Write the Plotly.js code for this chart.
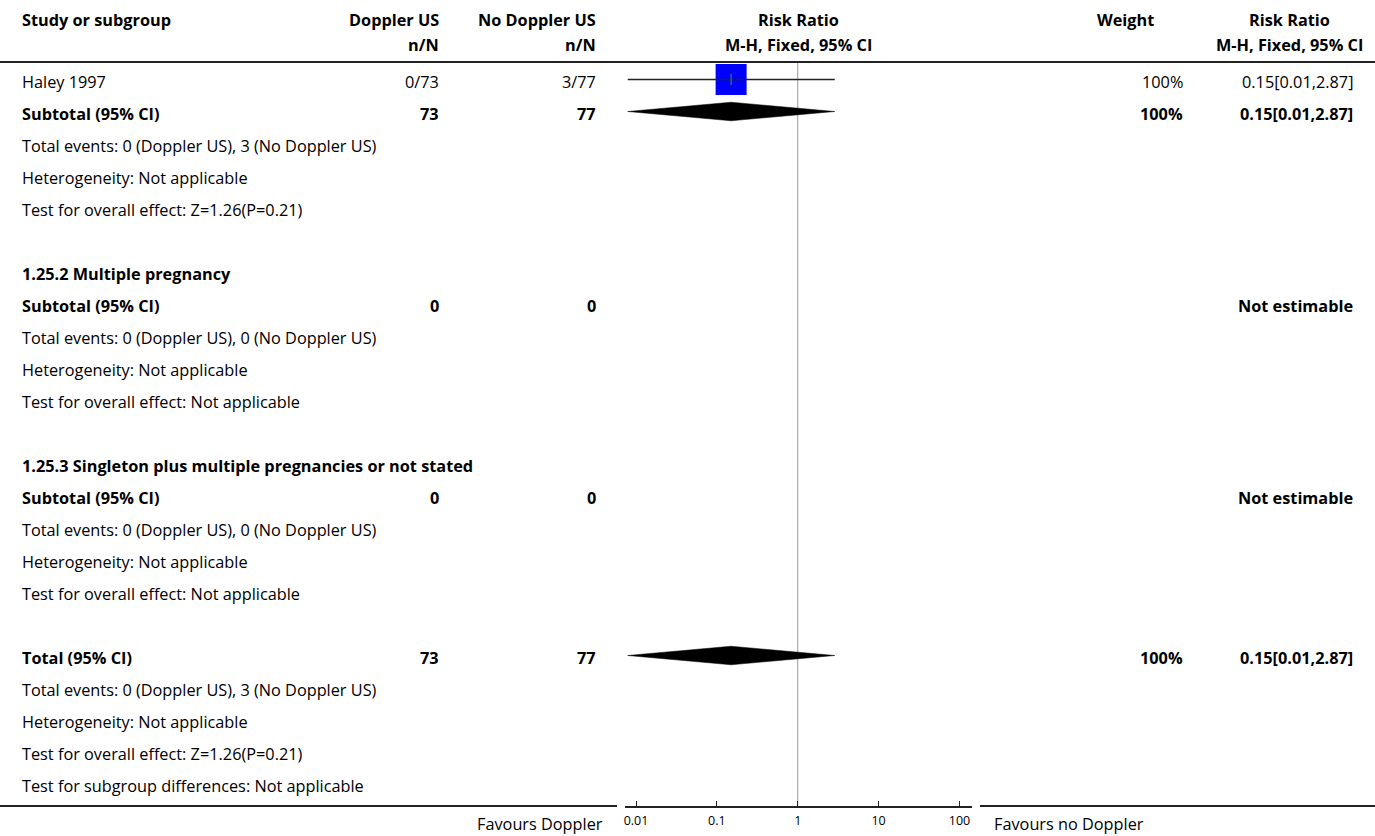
<!DOCTYPE html>
<html>
<head>
<meta charset="utf-8">
<script src="https://cdn.plot.ly/plotly-3.0.1.min.js"></script>
<style>html,body{margin:0;padding:0;background:#fff}#chart{width:1375px;height:836px}</style>
</head>
<body>
<div id="chart"></div>
<script>
// ---- data ----
const rowLabels = [
  "Haley 1997",
  "Subtotal (95% CI)",
  "Total events: 0 (Doppler US), 3 (No Doppler US)",
  "Heterogeneity: Not applicable",
  "Test for overall effect: Z=1.26(P=0.21)",
  "",
  "1.25.2 Multiple pregnancy",
  "Subtotal (95% CI)",
  "Total events: 0 (Doppler US), 0 (No Doppler US)",
  "Heterogeneity: Not applicable",
  "Test for overall effect: Not applicable",
  "",
  "1.25.3 Singleton plus multiple pregnancies or not stated",
  "Subtotal (95% CI)",
  "Total events: 0 (Doppler US), 0 (No Doppler US)",
  "Heterogeneity: Not applicable",
  "Test for overall effect: Not applicable",
  "",
  "Total (95% CI)",
  "Total events: 0 (Doppler US), 3 (No Doppler US)",
  "Heterogeneity: Not applicable",
  "Test for overall effect: Z=1.26(P=0.21)",
  "Test for subgroup differences: Not applicable"
];
const rowBold = [0,1,0,0,0,0,1,1,0,0,0,0,1,1,0,0,0,0,1,0,0,0,0];
const dopplerCol = ["0/73","73","","","","","","0","","","","","","0","","","","","73","","","",""];
const noDopplerCol = ["3/77","77","","","","","","0","","","","","","0","","","","","77","","","",""];
const weightCol = ["100%","100%","","","","","","","","","","","","","","","","","100%","","","",""];
const rrCol = ["0.15[0.01,2.87]","0.15[0.01,2.87]","","","","","","Not estimable","","","","","","Not estimable","","","","","0.15[0.01,2.87]","","","",""];

const headers1 = ["Study or subgroup","Doppler US","No Doppler US","Risk Ratio","Weight","Risk Ratio"];
const headers2 = ["","n/N","n/N","M-H, Fixed, 95% CI","","M-H, Fixed, 95% CI"];

// study-level estimates (row index, RR, lower, upper)
const studyRows = [0];
const studyRR = [0.15];
const studyLow = [0.0079];
const studyHigh = [2.87];
// pooled diamonds
const pooledRows = [1, 18];
const pooledRR = [0.15, 0.15];
const pooledLow = [0.0079, 0.0079];
const pooledHigh = [2.87, 2.87];

const tickVals = [0.01, 0.1, 1, 10, 100];
const tickText = ["0.01", "0.1", "1", "10", "100"];
const favourLeft = "Favours Doppler";
const favourRight = "Favours no Doppler";

// ---- layout helpers ----
const W = 1375, H = 836;
const px = x => x / W;
const py = y => 1 - y / H;
const ROW0 = 79.5, STEP = 32, TOP = 62, BOT = 806;
const FONT = "'Open Sans', 'Noto Sans', sans-serif";
const FS = 16.3;

const traces = [];
// squares
traces.push({
  x: studyRR, y: studyRows, mode: "markers", type: "scatter",
  marker: {symbol: "square", size: 31, color: "#0000ff", line: {width: 0}},
  hoverinfo: "skip"
});
// CI lines
studyRows.forEach((r, i) => {
  traces.push({
    x: [studyLow[i], studyHigh[i]], y: [r, r], mode: "lines", type: "scatter",
    line: {color: "#222", width: 1.5}, hoverinfo: "skip"
  });
});
traces.push({
  x: studyRR, y: studyRows, mode: "markers", type: "scatter",
  marker: {symbol: "line-ns-open", size: 8, line: {color: "#222", width: 1}},
  hoverinfo: "skip"
});
// diamonds
const dh = 0.29;
pooledRows.forEach((r, i) => {
  traces.push({
    x: [pooledLow[i], pooledRR[i], pooledHigh[i], pooledRR[i], pooledLow[i]],
    y: [r, r - dh, r, r + dh, r],
    mode: "lines", type: "scatter", fill: "toself", fillcolor: "#000",
    line: {color: "#000", width: 0.5}, hoverinfo: "skip"
  });
});

const ann = [];
function txt(x, y, text, anchor, bold, size, yref) {
  ann.push({
    x: px(x), xref: "paper", y: y, yref: yref || "y",
    text: bold ? "<b>" + text + "</b>" : text,
    showarrow: false, xanchor: anchor, yanchor: "middle", yshift: -2,
    font: {family: FONT, size: size || FS, color: "#000"}
  });
}
// headers
const h1x = [20, 441, 598, 798, 1125, 1289];
const h1a = ["left", "right", "right", "center", "center", "center"];
headers1.forEach((t, i) => { if (t) txt(h1x[i], py(18), t, h1a[i], true, FS, "paper"); });
headers2.forEach((t, i) => { if (t) txt(h1x[i], py(43), t, h1a[i], true, FS, "paper"); });

rowLabels.forEach((t, i) => {
  const b = rowBold[i] === 1;
  if (t) txt(20, i, t, "left", b);
  if (dopplerCol[i]) txt(441, i, dopplerCol[i], "right", b);
  if (noDopplerCol[i]) txt(598, i, noDopplerCol[i], "right", b);
  if (weightCol[i]) txt(1185, i, weightCol[i], "right", b);
  if (rrCol[i]) txt(1355, i, rrCol[i], "right", b);
});
txt(605, py(822), favourLeft, "right", false, FS, "paper");
txt(992, py(822), favourRight, "left", false, FS, "paper");

const shapes = [
  {type: "line", xref: "paper", yref: "paper", x0: 0, x1: 1, y0: py(TOP), y1: py(TOP), line: {color: "#222", width: 2}},
  {type: "line", xref: "paper", yref: "paper", x0: 0, x1: px(617), y0: py(BOT), y1: py(BOT), line: {color: "#222", width: 2}},
  {type: "line", xref: "paper", yref: "paper", x0: px(980), x1: 1, y0: py(BOT), y1: py(BOT), line: {color: "#222", width: 2}},
  {type: "line", xref: "x", yref: "paper", x0: 1, x1: 1, y0: py(BOT), y1: py(TOP), line: {color: "#999", width: 1}, layer: "below"}
];

const layout = {
  width: W, height: H,
  margin: {l: 0, r: 0, t: 0, b: 0},
  paper_bgcolor: "#fff", plot_bgcolor: "rgba(0,0,0,0)",
  showlegend: false, hovermode: false,
  xaxis: {
    domain: [px(625), px(972)], type: "log", range: [-2.136, 2.155],
    showline: true, linecolor: "#222", linewidth: 2,
    ticks: "inside", ticklen: 5, tickcolor: "#222", tickwidth: 1,
    tickvals: tickVals, ticktext: tickText, ticklabelstandoff: 2,
    tickfont: {family: FONT, size: 12.5, color: "#000"},
    showgrid: false, zeroline: false, fixedrange: true
  },
  yaxis: {
    domain: [py(BOT), py(TOP)],
    range: [(BOT - ROW0) / STEP, (TOP - ROW0) / STEP],
    visible: false, showgrid: false, zeroline: false, fixedrange: true
  },
  shapes: shapes,
  annotations: ann
};

Plotly.newPlot("chart", traces, layout, {displayModeBar: false, staticPlot: true});
</script>
</body>
</html>
